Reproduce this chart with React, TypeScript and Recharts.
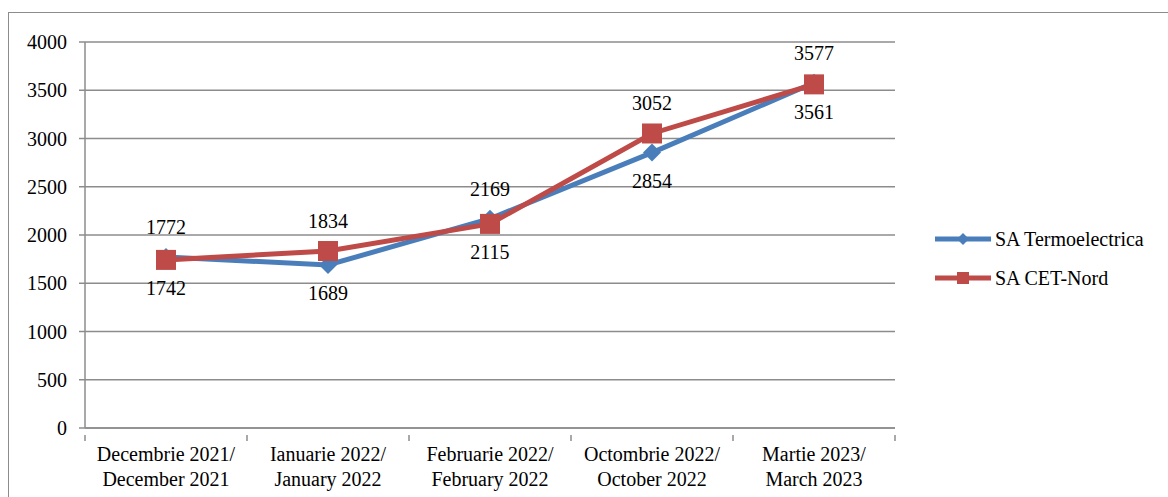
import React from "react";
import { LineChart, Line, XAxis, YAxis, CartesianGrid, LabelList } from "recharts";

// categories (two-line labels)
const categoriesRo = ["Decembrie 2021/", "Ianuarie 2022/", "Februarie 2022/", "Octombrie 2022/", "Martie 2023/"];
const categoriesEn = ["December 2021", "January 2022", "February 2022", "October 2022", "March 2023"];

const termoelectrica = [1772, 1689, 2169, 2854, 3577];
const cetNord = [1742, 1834, 2115, 3052, 3561];

// where each value label sits relative to its point
const termoLabelPos = ["top", "bottom", "top", "bottom", "top"];
const cetLabelPos = ["bottom", "top", "bottom", "top", "bottom"];

const yTicks = [0, 500, 1000, 1500, 2000, 2500, 3000, 3500, 4000];

const BLUE = "#4A7EBB";
const RED = "#BE4B48";
const GRAY = "#8C8C8C";
const FONT = "Liberation Serif, Tinos, DejaVu Serif, serif";

const data = categoriesRo.map((c, i) => ({
  cat: c,
  en: categoriesEn[i],
  termo: termoelectrica[i],
  cet: cetNord[i],
}));

const Diamond = (props: any) => {
  const { cx, cy } = props;
  if (cx == null || cy == null) return null;
  const r = 9;
  return <polygon points={`${cx},${cy - r} ${cx + r},${cy} ${cx},${cy + r} ${cx - r},${cy}`} fill={BLUE} />;
};

const Square = (props: any) => {
  const { cx, cy } = props;
  if (cx == null || cy == null) return null;
  const s = 10;
  return <rect x={cx - s} y={cy - s} width={2 * s} height={2 * s} fill={RED} />;
};

const makeLabel = (positions: string[]) => (props: any) => {
  const { x, y, value, index } = props;
  const dy = positions[index] === "top" ? -30 : 28;
  return (
    <text
      x={x}
      y={y + dy}
      textAnchor="middle"
      dominantBaseline="central"
      fontSize={20}
      style={{ fontFamily: FONT }}
      fill="#000"
    >
      {value}
    </text>
  );
};

const XTick = (props: any) => {
  const { x, y, payload, index } = props;
  const half = payload.offset || 0;
  const isLast = index === categoriesRo.length - 1;
  return (
    <g>
      <line x1={x - half} y1={y - 1} x2={x - half} y2={y + 5} stroke={GRAY} strokeWidth={1.5} />
      {isLast && <line x1={x + half} y1={y - 1} x2={x + half} y2={y + 5} stroke={GRAY} strokeWidth={1.5} />}
      <text x={x} textAnchor="middle" fontSize={20} style={{ fontFamily: FONT }} fill="#000">
        <tspan x={x} y={y + 25}>{payload.value}</tspan>
        <tspan x={x} y={y + 50}>{categoriesEn[index]}</tspan>
      </text>
    </g>
  );
};

const legendItems = [
  { name: "SA Termoelectrica", color: BLUE, shape: "diamond" },
  { name: "SA CET-Nord", color: RED, shape: "square" },
];

export default function App() {
  return (
    <div
      style={{
        position: "fixed",
        left: 0,
        top: 0,
        width: 1168,
        height: 497,
        overflow: "hidden",
        background: "#fff",
        fontFamily: FONT,
      }}
    >
      <div
        style={{
          position: "absolute",
          left: 8,
          top: 12,
          width: 1200,
          height: 520,
          border: `1.5px solid ${GRAY}`,
        }}
      />
      <div style={{ position: "absolute", left: 0, top: 0 }}>
        <LineChart width={1168} height={497} data={data} margin={{ top: 42, right: 273, bottom: 0, left: 0 }}>
          <CartesianGrid vertical={false} stroke={GRAY} strokeWidth={1.5} />
          <XAxis
            dataKey="cat"
            scale="band"
            height={69}
            axisLine={{ stroke: GRAY, strokeWidth: 1.5 }}
            tickLine={false}
            interval={0}
            tick={<XTick />}
          />
          <YAxis
            width={85}
            domain={[0, 4000]}
            ticks={yTicks}
            interval={0}
            axisLine={{ stroke: GRAY, strokeWidth: 1.5 }}
            tickLine={{ stroke: GRAY, strokeWidth: 1.5 }}
            tickSize={6}
            tickMargin={12}
            tick={{ fontSize: 20, fill: "#000", style: { fontFamily: FONT } }}
          />
          <Line
            dataKey="termo"
            name="SA Termoelectrica"
            stroke={BLUE}
            strokeWidth={5}
            dot={<Diamond />}
            activeDot={false}
            isAnimationActive={false}
          >
            <LabelList dataKey="termo" content={makeLabel(termoLabelPos)} />
          </Line>
          <Line
            dataKey="cet"
            name="SA CET-Nord"
            stroke={RED}
            strokeWidth={5}
            dot={<Square />}
            activeDot={false}
            isAnimationActive={false}
          >
            <LabelList dataKey="cet" content={makeLabel(cetLabelPos)} />
          </Line>
        </LineChart>
      </div>
      <div style={{ position: "absolute", left: 935, top: 227 }}>
        {legendItems.map((it, i) => (
          <div key={it.name} style={{ display: "flex", alignItems: "center", height: 24, marginBottom: i === 0 ? 15 : 0 }}>
            <svg width={56} height={20}>
              <line x1={0} y1={10} x2={56} y2={10} stroke={it.color} strokeWidth={5} />
              {it.shape === "diamond" ? (
                <polygon points="28,4 34,10 28,16 22,10" fill={it.color} />
              ) : (
                <rect x={22} y={4} width={12} height={12} fill={it.color} />
              )}
            </svg>
            <span style={{ fontFamily: FONT, fontSize: 20, marginLeft: 4, color: "#000" }}>{it.name}</span>
          </div>
        ))}
      </div>
    </div>
  );
}
